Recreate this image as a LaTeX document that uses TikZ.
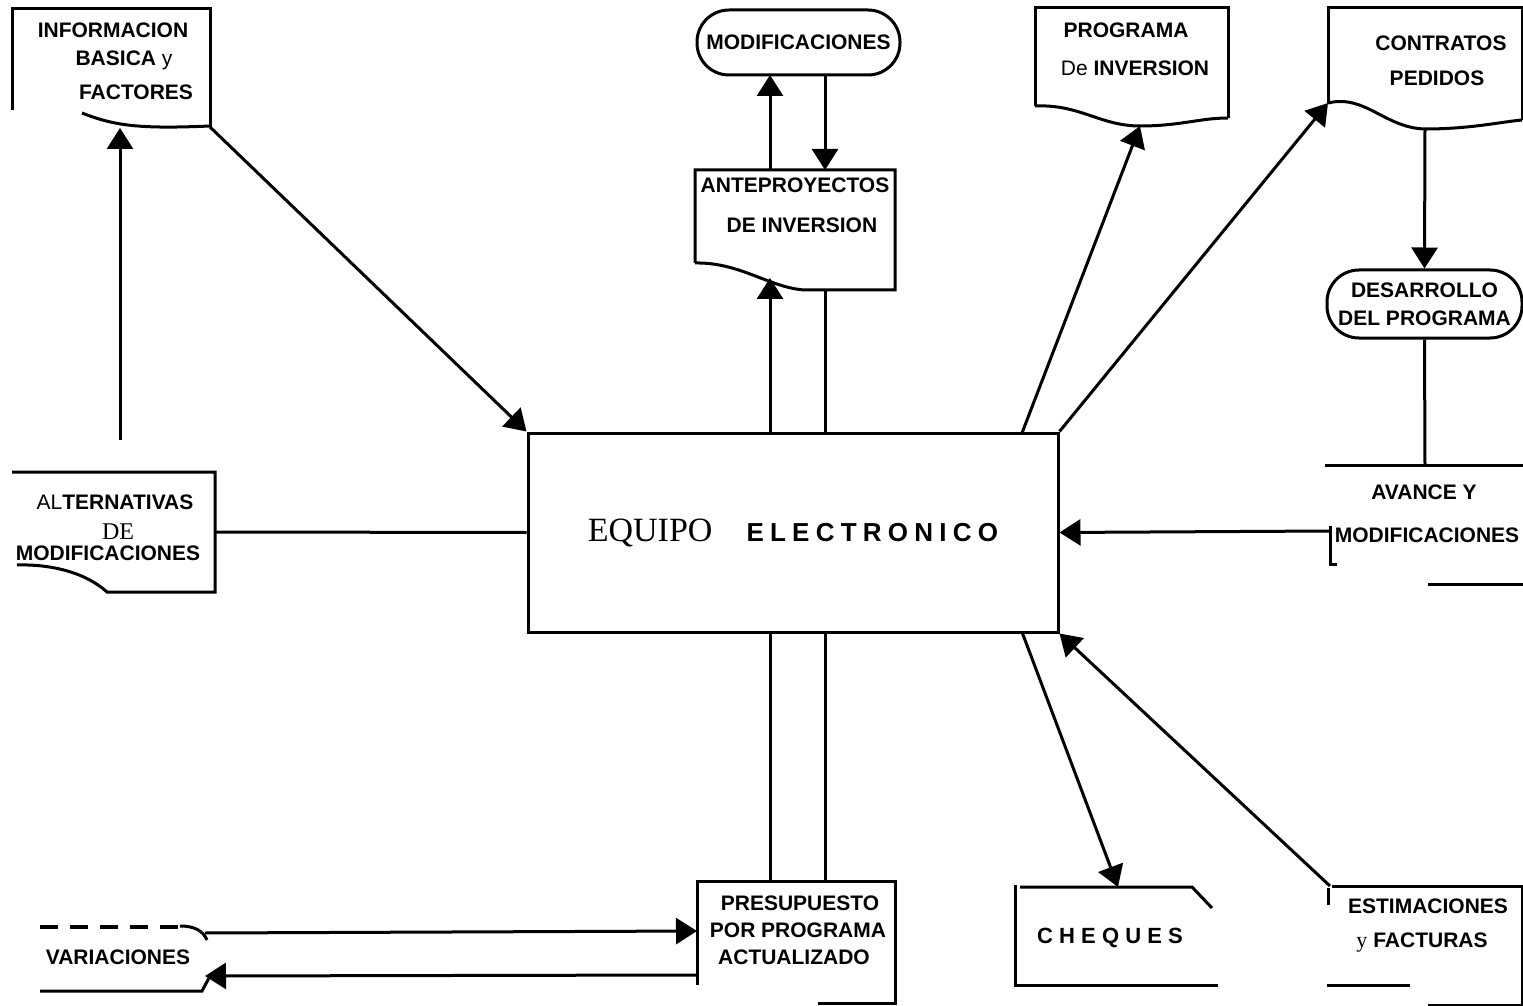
\documentclass[tikz,border=0pt]{standalone}
\usepackage{fontspec}
\setmainfont{Liberation Serif}
\setsansfont{Liberation Sans}
\usetikzlibrary{arrows.meta}
\begin{document}
\begin{tikzpicture}[x=0.5pt,y=-0.5pt,
  ln/.style={line width=1.5pt},
  arr/.style={line width=1.5pt,-{Triangle[width=13pt,length=10.5pt]}},
  lbl/.style={font=\sffamily\bfseries\fontsize{10.5}{12}\selectfont,inner sep=0pt},
  stadium/.style={draw,line width=1.5pt,rounded corners=16pt,inner sep=0pt,align=center,
     font=\sffamily\bfseries\fontsize{10.5}{14}\selectfont},
]
\useasboundingbox (0,0) rectangle (1523,1006);

% ---------- central box
\node[draw,line width=1.5pt,minimum width=265pt,minimum height=99.5pt,inner sep=0pt] (eq) at (793,532.5)
  {{\fontsize{17}{20}\selectfont EQUIPO}\hspace{17pt}{\sffamily\bfseries\fontsize{13}{14}\selectfont\addfontfeature{LetterSpace=24}ELECTRONICO}};

% ---------- INFORMACION BASICA y FACTORES
\draw[ln] (12,110) -- (12,9) -- (210,9) -- (210,127);
\draw[ln] (82,113) .. controls (115,126) and (140,129) .. (210,126);
\node[lbl] (info1) at (113,30) {INFORMACION};
\node[lbl] (info2) at (124,60) {BASICA {\mdseries y}};
\node[lbl] (info3) at (136,92) {FACTORES};
\coordinate (infoB) at (120,128);
\coordinate (infoC) at (210,127);

% ---------- ALTERNATIVAS DE MODIFICACIONES
\draw[ln] (12,472) -- (215,472) -- (215,592) -- (107,592)
   .. controls (85,572) and (50,564) .. (17,565);
\node[lbl] (alt1) at (115,502) {{\mdseries AL}TERNATIVAS};
\node[inner sep=0pt,font=\fontsize{12}{12}\selectfont] (alt2) at (118,532) {DE};
\node[lbl] (alt3) at (108,553) {MODIFICACIONES};
\coordinate (altR) at (215,532);
\coordinate (altT) at (120,440);

% ---------- MODIFICACIONES
\node[stadium,minimum width=101.5pt,minimum height=32.5pt] (mod) at (798.5,42.5) {MODIFICACIONES};
\coordinate (modB1) at (770,75);
\coordinate (modB2) at (825,75);

% ---------- ANTEPROYECTOS DE INVERSION
\draw[ln] (695,263) -- (695,170) -- (895,170) -- (895,290) -- (805,290)
   .. controls (770,288) and (740,262) .. (695,263);
\node[lbl] (ante1) at (795,185) {ANTEPROYECTOS};
\node[lbl] (ante2) at (802,225) {DE INVERSION};
\coordinate (anteT1) at (770,170);
\coordinate (anteT2) at (825,170);
\coordinate (anteB1) at (770,278);
\coordinate (anteB2) at (825,290);
\coordinate (eqT1) at (770,433);
\coordinate (eqT2) at (825,433);

% ---------- PROGRAMA DE INVERSION
\draw[ln] (1035,106) -- (1035,8) -- (1228,8) -- (1228,118);
\draw[ln] (1035,106) .. controls (1080,104) and (1100,126) .. (1140,126)
   .. controls (1180,126) and (1200,118) .. (1228,118);
\node[lbl] (prog1) at (1126,30) {PROGRAMA};
\node[lbl] (prog2) at (1135,68) {{\mdseries De} INVERSION};
\coordinate (progB) at (1140,126);
\coordinate (eqT3) at (1022,433);

% ---------- CONTRATOS PEDIDOS
\draw[ln] (1328,103) -- (1328,8) -- (1522,8) -- (1522,120);
\draw[ln] (1328,103) .. controls (1365,94) and (1385,128) .. (1425,129)
   .. controls (1470,129) and (1500,122) .. (1522,120);
\node[lbl] (con1) at (1441,43) {CONTRATOS};
\node[lbl] (con2) at (1437,78) {PEDIDOS};
\coordinate (conL) at (1328,103);
\coordinate (conB) at (1425,129);

% ---------- DESARROLLO DEL PROGRAMA
\node[stadium,minimum width=97.5pt,minimum height=34pt] (des) at (1424.5,304) {DESARROLLO\\DEL PROGRAMA};

% ---------- AVANCE Y MODIFICACIONES
\draw[ln] (1325,465) -- (1523,465);
\draw[ln] (1428,584) -- (1523,584);
\draw[ln] (1330,526) -- (1330,564) -- (1337,564);
\node[lbl] (av1) at (1424,492) {AVANCE Y};
\node[lbl] (av2) at (1427,535) {MODIFICACIONES};
\coordinate (avT) at (1425,465);
\coordinate (avL) at (1330,531);

% ---------- PRESUPUESTO POR PROGRAMA ACTUALIZADO
\draw[ln] (697,985) -- (697,881) -- (895,881) -- (895,1003) -- (818,1003);
\node[lbl] (pre1) at (800,903) {PRESUPUESTO};
\node[lbl] (pre2) at (798,930) {POR PROGRAMA};
\node[lbl] (pre3) at (794,957) {ACTUALIZADO};
\coordinate (preT1) at (770,881);
\coordinate (preT2) at (825,881);
\coordinate (preL1) at (697,931);
\coordinate (preL2) at (697,975);
\coordinate (eqB1) at (770,632);
\coordinate (eqB2) at (825,632);

% ---------- VARIACIONES
\draw[line width=2pt,dash pattern=on 9pt off 6pt] (40,927) -- (180,927);
\draw[ln] (180,926) .. controls (195,926) and (203,931) .. (207,940);
\draw[ln] (40,991) -- (202,991) -- (210,976);
\node[lbl] (var) at (118,957) {VARIACIONES};
\coordinate (varR1) at (205,933);
\coordinate (varR2) at (205,976);

% ---------- CHEQUES
\draw[ln] (1015,987) -- (1015,885);
\draw[ln] (1020,887) -- (1192,887) -- (1212,908);
\draw[ln] (1015,985) -- (1218,985);
\node[lbl,font=\sffamily\bfseries\fontsize{11}{12}\selectfont\addfontfeature{LetterSpace=28}] (che) at (1110,938) {CHEQUES};
\coordinate (cheT) at (1118,887);
\coordinate (eqB3) at (1022,632);

% ---------- ESTIMACIONES y FACTURAS
\draw[ln] (1332,886) -- (1523,886);
\draw[line width=0.6pt] (1522,886) -- (1522,1005) -- (1428,1005);
\draw[ln] (1328,888) -- (1328,905);
\draw[ln] (1327,985) -- (1410,985);
\node[lbl] (est1) at (1428,906) {ESTIMACIONES};
\node[lbl] (est2) at (1422,943) {{\rmfamily\mdseries\fontsize{11}{12}\selectfont y} FACTURAS};
\coordinate (estT) at (1330,886);

% ---------- connectors
\draw[arr] (altT) -- (infoB);
\draw[arr] (infoC) -- (eq.north west);
\draw[ln] (altR) -- (eq.west);
\draw[arr] (anteT1) -- (modB1);
\draw[arr] (modB2) -- (anteT2);
\draw[arr] (eqT1) -- (anteB1);
\draw[ln] (anteB2) -- (eqT2);
\draw[arr] (eqT3) -- (progB);
\draw[arr] (eq.north east) -- (conL);
\draw[arr] (conB) -- (des.north);
\draw[ln] (des.south) -- (avT);
\draw[arr] (avL) -- (eq.east);
\draw[ln] (eqB1) -- (preT1);
\draw[ln] (eqB2) -- (preT2);
\draw[arr] (varR1) -- (preL1);
\draw[arr] (preL2) -- (varR2);
\draw[arr] (eqB3) -- (cheT);
\draw[arr] (estT) -- (eq.south east);
\end{tikzpicture}
\end{document}
